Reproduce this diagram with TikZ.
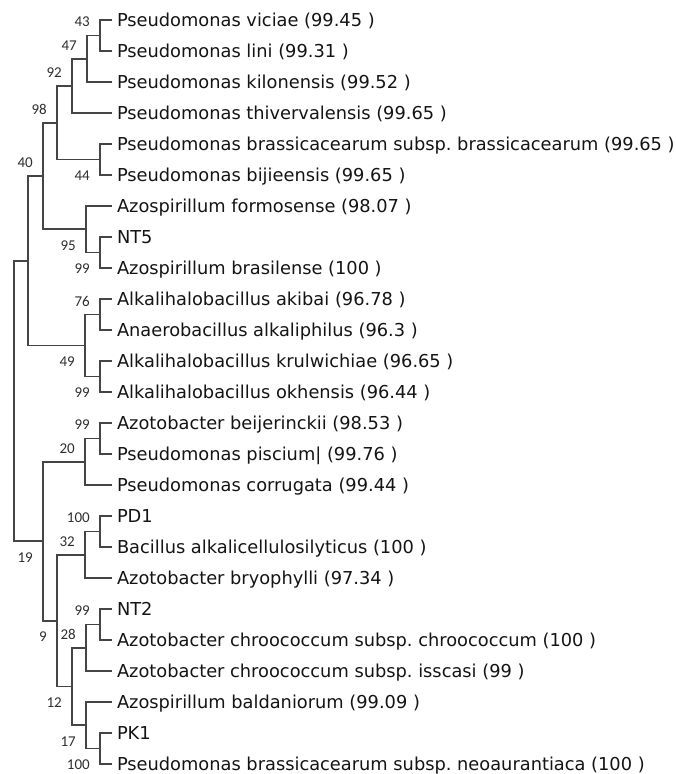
\documentclass[tikz,border=0pt]{standalone}
\usepackage{fontspec}
\setmainfont{DejaVu Sans}
\newfontfamily\labfont{Carlito}
\usetikzlibrary{calc}
\frenchspacing
\definecolor{branchc}{HTML}{454545}
\definecolor{leaftext}{HTML}{141414}
\definecolor{labtext}{HTML}{2E2E2E}
\begin{document}
\begin{tikzpicture}[x=1pt,y=-1pt,
  leaf/.style={anchor=west, inner xsep=0pt, outer xsep=5pt, inner ysep=0pt, text height=16pt, text depth=3pt,
    font=\fontsize{17.8}{20}\selectfont\frenchspacing, text=leaftext},
  blab/.style={anchor=east, inner sep=0pt, font=\labfont\fontsize{15}{16}\selectfont, text=labtext},
  branch/.style={draw=branchc, line width=1.9pt}]
\useasboundingbox (0,0) rectangle (676,774);
% leaves
\node[leaf] (L0) at (112,20) {Pseudomonas viciae (99.45 )};
\node[leaf] (L1) at (112,51) {Pseudomonas lini (99.31 )};
\node[leaf] (L2) at (112,82) {Pseudomonas kilonensis (99.52 )};
\node[leaf] (L3) at (112,113) {Pseudomonas thivervalensis (99.65 )};
\node[leaf] (L4) at (112,144) {Pseudomonas brassicacearum subsp. brassicacearum (99.65 )};
\node[leaf] (L5) at (112,175) {Pseudomonas bijieensis (99.65 )};
\node[leaf] (L6) at (112,206) {Azospirillum formosense (98.07 )};
\node[leaf] (L7) at (112,237) {NT5};
\node[leaf] (L8) at (112,268) {Azospirillum brasilense (100 )};
\node[leaf] (L9) at (112,299) {Alkalihalobacillus akibai (96.78 )};
\node[leaf] (L10) at (112,330) {Anaerobacillus alkaliphilus (96.3 )};
\node[leaf] (L11) at (112,361) {Alkalihalobacillus krulwichiae (96.65 )};
\node[leaf] (L12) at (112,392) {Alkalihalobacillus okhensis (96.44 )};
\node[leaf] (L13) at (112,423) {Azotobacter beijerinckii (98.53 )};
\node[leaf] (L14) at (112,454) {Pseudomonas piscium| (99.76 )};
\node[leaf] (L15) at (112,485) {Pseudomonas corrugata (99.44 )};
\node[leaf] (L16) at (112,516) {PD1};
\node[leaf] (L17) at (112,547) {Bacillus alkalicellulosilyticus (100 )};
\node[leaf] (L18) at (112,578) {Azotobacter bryophylli (97.34 )};
\node[leaf] (L19) at (112,609) {NT2};
\node[leaf] (L20) at (112,640) {Azotobacter chroococcum subsp. chroococcum (100 )};
\node[leaf] (L21) at (112,671) {Azotobacter chroococcum subsp. isscasi (99 )};
\node[leaf] (L22) at (112,702) {Azospirillum baldaniorum (99.09 )};
\node[leaf] (L23) at (112,733) {PK1};
\node[leaf] (L24) at (112,764) {Pseudomonas brassicacearum subsp. neoaurantiaca (100 )};
% internal nodes
\coordinate (n43) at (100,35.5);
\coordinate (n47) at (87,58.75);
\coordinate (n92) at (72,85.88);
\coordinate (n44) at (100,159.5);
\coordinate (n98) at (57,122.69);
\coordinate (n99a) at (100,252.5);
\coordinate (n95) at (86,229.25);
\coordinate (n40) at (43,175.97);
\coordinate (n76) at (100,314.5);
\coordinate (n99b) at (100,376.5);
\coordinate (n49) at (85,345.5);
\coordinate (nx) at (28,260.73);
\coordinate (n99c) at (100,438.5);
\coordinate (n20) at (85,461.75);
\coordinate (n100a) at (100,531.5);
\coordinate (n32) at (85,554.75);
\coordinate (n99d) at (100,624.5);
\coordinate (n28) at (86,647.75);
\coordinate (n100b) at (100,748.5);
\coordinate (n17) at (86,725.25);
\coordinate (n12) at (72,686.5);
\coordinate (n9) at (57,620.63);
\coordinate (nlow) at (43,541.19);
\coordinate (root) at (14,400.96);
% branches
\draw[branch] (n43) |- (L0.west);
\draw[branch] (n43) |- (L1.west);
\draw[branch] (n47) |- (n43);
\draw[branch] (n47) |- (L2.west);
\draw[branch] (n92) |- (n47);
\draw[branch] (n92) |- (L3.west);
\draw[branch] (n44) |- (L4.west);
\draw[branch] (n44) |- (L5.west);
\draw[branch] (n98) |- (n92);
\draw[branch] (n98) |- (n44);
\draw[branch] (n99a) |- (L7.west);
\draw[branch] (n99a) |- (L8.west);
\draw[branch] (n95) |- (L6.west);
\draw[branch] (n95) |- (n99a);
\draw[branch] (n40) |- (n98);
\draw[branch] (n40) |- (n95);
\draw[branch] (n76) |- (L9.west);
\draw[branch] (n76) |- (L10.west);
\draw[branch] (n99b) |- (L11.west);
\draw[branch] (n99b) |- (L12.west);
\draw[branch] (n49) |- (n76);
\draw[branch] (n49) |- (n99b);
\draw[branch] (nx) |- (n40);
\draw[branch] (nx) |- (n49);
\draw[branch] (n99c) |- (L13.west);
\draw[branch] (n99c) |- (L14.west);
\draw[branch] (n20) |- (n99c);
\draw[branch] (n20) |- (L15.west);
\draw[branch] (n100a) |- (L16.west);
\draw[branch] (n100a) |- (L17.west);
\draw[branch] (n32) |- (n100a);
\draw[branch] (n32) |- (L18.west);
\draw[branch] (n99d) |- (L19.west);
\draw[branch] (n99d) |- (L20.west);
\draw[branch] (n28) |- (n99d);
\draw[branch] (n28) |- (L21.west);
\draw[branch] (n100b) |- (L23.west);
\draw[branch] (n100b) |- (L24.west);
\draw[branch] (n17) |- (L22.west);
\draw[branch] (n17) |- (n100b);
\draw[branch] (n12) |- (n28);
\draw[branch] (n12) |- (n17);
\draw[branch] (n9) |- (n32);
\draw[branch] (n9) |- (n12);
\draw[branch] (nlow) |- (n20);
\draw[branch] (nlow) |- (n9);
\draw[branch] (root) |- (nx);
\draw[branch] (root) |- (nlow);
% bootstrap labels
\node[blab] (b43) at ([xshift=-10pt,yshift=13.5pt]n43) {43};
\node[blab] (b47) at ([xshift=-10pt,yshift=13.5pt]n47) {47};
\node[blab] (b92) at ([xshift=-10pt,yshift=13.5pt]n92) {92};
\node[blab] (b98) at ([xshift=-10pt,yshift=13.5pt]n98) {98};
\node[blab] (b40) at ([xshift=-10pt,yshift=13.5pt]n40) {40};
\node[blab] (b44) at ([xshift=-10pt,yshift=-16pt]n44) {44};
\node[blab] (b95) at ([xshift=-10pt,yshift=-16pt]n95) {95};
\node[blab] (b99a) at ([xshift=-10pt,yshift=-16pt]n99a) {99};
\node[blab] (b76) at ([xshift=-10pt,yshift=13.5pt]n76) {76};
\node[blab] (b49) at ([xshift=-10pt,yshift=-16pt]n49) {49};
\node[blab] (b99b) at ([xshift=-10pt,yshift=-16pt]n99b) {99};
\node[blab] (b99c) at ([xshift=-10pt,yshift=13.5pt]n99c) {99};
\node[blab] (b20) at ([xshift=-10pt,yshift=13.5pt]n20) {20};
\node[blab] (b100a) at ([xshift=-10pt,yshift=13.5pt]n100a) {100};
\node[blab] (b32) at ([xshift=-10pt,yshift=13.5pt]n32) {32};
\node[blab] (b19) at ([xshift=-10pt,yshift=-16pt]nlow) {19};
\node[blab] (b99d) at ([xshift=-10pt,yshift=13.5pt]n99d) {99};
\node[blab] (b9) at ([xshift=-10pt,yshift=-16pt]n9) {9};
\node[blab] (b28) at ([xshift=-10pt,yshift=13.5pt]n28) {28};
\node[blab] (b12) at ([xshift=-10pt,yshift=-16pt]n12) {12};
\node[blab] (b17) at ([xshift=-10pt,yshift=-16pt]n17) {17};
\node[blab] (b100b) at ([xshift=-10pt,yshift=-16pt]n100b) {100};
\end{tikzpicture}
\end{document}
